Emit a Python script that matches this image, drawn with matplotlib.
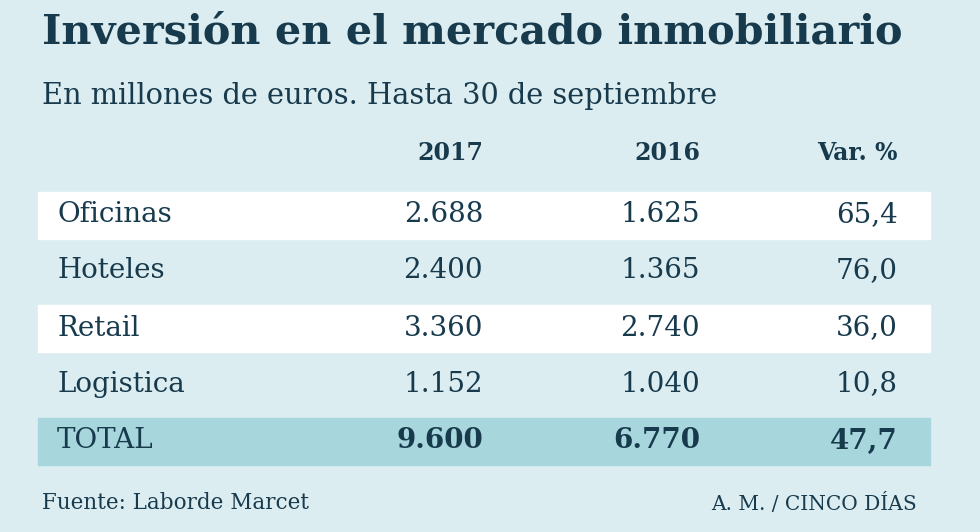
import matplotlib.pyplot as plt
from matplotlib.patches import Rectangle

categories = ["Oficinas", "Hoteles", "Retail", "Logistica", "TOTAL"]
v2017 = ["2.688", "2.400", "3.360", "1.152", "9.600"]
v2016 = ["1.625", "1.365", "2.740", "1.040", "6.770"]
var_pct = ["65,4", "76,0", "36,0", "10,8", "47,7"]
headers = ["2017", "2016", "Var. %"]

bg = "#dcedf1"
ink = "#173a4d"
serif = "DejaVu Serif"

fig = plt.figure(figsize=(9.8, 5.32), dpi=100, facecolor=bg)
ax = fig.add_axes([0, 0, 1, 1])
ax.set_xlim(0, 980)
ax.set_ylim(532, 0)
ax.axis("off")
ax.set_facecolor(bg)

ax.text(42, 33, "Inversión en el mercado inmobiliario", fontsize=29.8, fontweight="bold",
        family=serif, color=ink, va="center")
ax.text(42, 96, "En millones de euros. Hasta 30 de septiembre", fontsize=20.8,
        family=serif, color=ink, va="center")

cols_x = [483, 700, 898]
for x, h in zip(cols_x, headers):
    ax.text(x, 153, h, fontsize=17, fontweight="bold", family=serif, color=ink,
            ha="right", va="center")

row_y = [215, 271, 328, 384, 441]
for i, (cat, a, b, c) in enumerate(zip(categories, v2017, v2016, var_pct)):
    y = row_y[i]
    total = cat == "TOTAL"
    if total:
        ax.add_patch(Rectangle((38, y - 23), 892, 47, color="#a7d6dc", zorder=0))
    elif i % 2 == 0:
        ax.add_patch(Rectangle((38, y - 23), 892, 47, color="white", zorder=0))
    ax.text(57, y, cat, fontsize=20, family=serif, color=ink, va="center")
    w = "bold" if total else "normal"
    for x, v in zip(cols_x, [a, b, c]):
        ax.text(x, y, v, fontsize=20, family=serif, color=ink, ha="right",
                va="center", fontweight=w)

ax.text(42, 503, "Fuente: Laborde Marcet", fontsize=15.5, family=serif, color=ink, va="center")
ax.text(917, 503, "A. M. / CINCO DÍAS", fontsize=14.5, family=serif, color=ink,
        va="center", ha="right")

fig.savefig("out.png", dpi=100, facecolor=bg)
